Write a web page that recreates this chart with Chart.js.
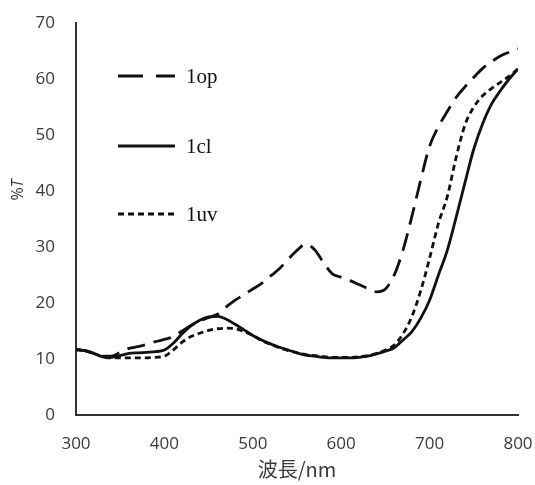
<!DOCTYPE html>
<html>
<head>
<meta charset="utf-8">
<script src="https://cdn.jsdelivr.net/npm/chart.js@4"></script>
<style>
  html, body { margin: 0; padding: 0; background: #fff; }
  #wrap { width: 535px; height: 485px; }
</style>
</head>
<body>
<div id="wrap"><canvas id="c" width="535" height="485"></canvas></div>
<script>
// wavelength grid (nm), every 10 nm
const wavelengths = [
  300,310,320,330,340,350,360,370,380,390,
  400,410,420,430,440,450,460,470,480,490,
  500,510,520,530,540,550,560,570,580,590,
  600,610,620,630,640,650,660,670,680,690,
  700,710,720,730,740,750,760,770,780,790,800
];

// %T
const op = [
  11.7,11.5,11.0,10.5,10.5,11.2,11.9,12.2,12.6,13.1,
  13.5,14.0,15.0,16.0,16.8,17.4,18.0,19.3,20.5,21.5,
  22.5,23.5,24.8,26.1,27.8,29.4,30.5,29.5,27.2,25.2,
  24.6,24.0,23.3,22.6,22.0,22.5,25.0,29.5,35.5,42.0,
  48.0,51.5,54.2,56.7,58.6,60.3,61.9,63.1,64.1,64.8,65.4
];
const cl = [
  11.7,11.5,11.0,10.4,10.3,10.6,11.0,11.1,11.2,11.3,
  11.6,12.8,14.5,15.9,16.9,17.5,17.6,17.1,16.2,15.2,
  14.2,13.4,12.7,12.1,11.6,11.1,10.7,10.5,10.3,10.2,
  10.2,10.2,10.3,10.5,10.9,11.4,12.0,13.4,14.9,17.3,
  20.5,25.0,29.4,35.3,41.5,47.5,52.0,55.5,57.9,60.0,61.8
];
const uv = [
  11.7,11.5,11.0,10.4,10.2,10.2,10.2,10.2,10.2,10.3,
  10.5,11.6,13.0,14.0,14.6,15.1,15.4,15.5,15.4,14.9,
  14.2,13.3,12.6,12.0,11.5,11.1,10.8,10.6,10.4,10.3,
  10.3,10.3,10.4,10.6,11.0,11.6,12.5,14.5,17.6,22.2,
  28.0,34.2,39.0,46.0,51.8,55.0,57.0,58.3,59.4,60.5,61.8
];

const seriesNames = ['1op', '1cl', '1uv'];
const seriesData = [op, cl, uv];
const dashes = [[18, 9], [], [6, 4]];

const xTicks = { min: 300, max: 800, step: 100 };
const yTicks = { min: 0, max: 70, step: 10 };

const tickFont = { family: "'Open Sans', 'Liberation Sans', sans-serif", size: 17 };
const textColor = '#3a3a3a';

// legend placed inside the plot, one entry per row, like the original
const insideLegend = {
  id: 'insideLegend',
  afterDraw(chart) {
    const ctx = chart.ctx;
    const rows = [76, 146, 214];
    ctx.save();
    chart.data.datasets.forEach((ds, i) => {
      const y = rows[i];
      ctx.beginPath();
      ctx.lineWidth = 3;
      ctx.strokeStyle = ds.borderColor;
      ctx.setLineDash(i === 0 ? [25, 13] : (ds.borderDash || []));
      ctx.moveTo(118, y);
      ctx.lineTo(175, y);
      ctx.stroke();
      ctx.setLineDash([]);
      ctx.fillStyle = '#111';
      ctx.font = "21px 'Liberation Serif', serif";
      ctx.textBaseline = 'middle';
      ctx.textAlign = 'left';
      ctx.fillText(ds.label, 186, y + 1);
    });
    ctx.restore();
  }
};

// y title "%T" with italic T
const yTitle = {
  id: 'yTitle',
  afterDraw(chart) {
    const ctx = chart.ctx;
    ctx.save();
    ctx.translate(18, 190);
    ctx.rotate(-Math.PI / 2);
    ctx.fillStyle = textColor;
    ctx.textBaseline = 'middle';
    const f1 = "16px 'Open Sans', 'Liberation Sans', sans-serif";
    const f2 = "italic 16px 'Open Sans', 'Liberation Sans', sans-serif";
    ctx.font = f1;
    const w1 = ctx.measureText('%').width;
    ctx.font = f2;
    const w2 = ctx.measureText('T').width;
    let x = -(w1 + w2) / 2;
    ctx.font = f1;
    ctx.textAlign = 'left';
    ctx.fillText('%', x, 0);
    ctx.font = f2;
    ctx.fillText('T', x + w1, 0);
    ctx.restore();
  }
};

new Chart(document.getElementById('c').getContext('2d'), {
  type: 'line',
  data: {
    labels: wavelengths,
    datasets: seriesNames.map((name, i) => ({
      label: name,
      data: wavelengths.map((w, j) => ({ x: w, y: seriesData[i][j] })),
      borderColor: '#111',
      borderWidth: 2.8,
      borderDash: dashes[i],
      pointRadius: 0,
      fill: false,
      cubicInterpolationMode: 'monotone'
    }))
  },
  options: {
    responsive: false,
    animation: false,
    layout: { padding: { top: 23, right: 17, left: 0, bottom: 0 } },
    plugins: {
      legend: { display: false },
      tooltip: { enabled: false }
    },
    scales: {
      x: {
        type: 'linear',
        min: xTicks.min, max: xTicks.max,
        afterFit: s => { s.height = 70; s.paddingLeft = 0; s.paddingRight = 0; },
        ticks: { stepSize: xTicks.step, font: tickFont, color: textColor, padding: 19 },
        grid: { display: false, drawTicks: false },
        border: { display: true, color: '#333', width: 2 },
        title: {
          display: true,
          text: '波長/nm',
          color: textColor,
          font: { family: "'Noto Sans CJK JP', sans-serif", size: 20 },
          padding: { top: 0, bottom: 4 }
        }
      },
      y: {
        min: yTicks.min, max: yTicks.max,
        afterFit: s => { s.width = 76; s.paddingTop = 0; s.paddingBottom = 0; },
        ticks: { stepSize: yTicks.step, font: tickFont, color: textColor, padding: 21 },
        grid: { display: false, drawTicks: false },
        border: { display: true, color: '#333', width: 2 }
      }
    }
  },
  plugins: [insideLegend, yTitle]
});
</script>
</body>
</html>
